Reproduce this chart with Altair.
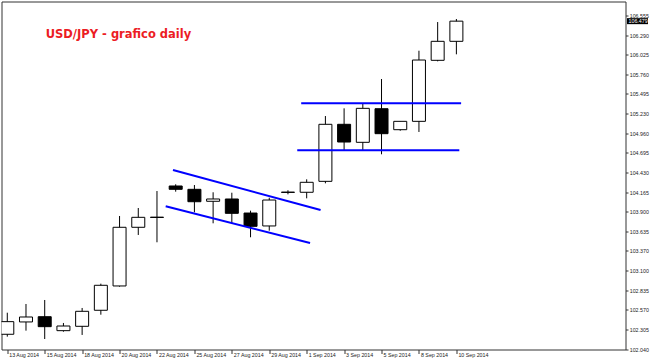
import altair as alt
import pandas as pd

dates = ["13 Aug 2014", "14 Aug 2014", "15 Aug 2014", "17 Aug 2014", "18 Aug 2014",
         "19 Aug 2014", "20 Aug 2014", "21 Aug 2014", "22 Aug 2014", "24 Aug 2014",
         "25 Aug 2014", "26 Aug 2014", "27 Aug 2014", "28 Aug 2014", "29 Aug 2014",
         "31 Aug 2014", "1 Sep 2014", "2 Sep 2014", "3 Sep 2014", "4 Sep 2014",
         "5 Sep 2014", "7 Sep 2014", "8 Sep 2014", "9 Sep 2014", "10 Sep 2014"]
opens = [102.241, 102.408, 102.479, 102.290, 102.349, 102.566, 102.895, 103.689, 103.826, 104.248,
         104.203, 104.041, 104.072, 103.882, 103.707, 104.161, 104.163, 104.311, 105.083, 104.839,
         105.294, 105.010, 105.123, 105.949, 106.206]
highs = [102.533, 102.651, 102.705, 102.394, 102.597, 102.926, 103.842, 103.950, 104.180, 104.271,
         104.261, 104.163, 104.157, 103.914, 104.089, 104.190, 104.338, 105.195, 105.299, 105.367,
         105.696, 105.123, 106.079, 106.467, 106.508]
lows = [102.209, 102.290, 102.177, 102.276, 102.232, 102.506, 102.885, 103.585, 103.486, 104.171,
        103.892, 103.743, 103.743, 103.554, 103.643, 104.135, 104.081, 104.284, 104.735, 104.735,
        104.677, 104.996, 104.979, 105.935, 106.030]
closes = [102.412, 102.475, 102.344, 102.353, 102.552, 102.904, 103.689, 103.824, 103.822, 104.203,
          104.035, 104.072, 103.878, 103.702, 104.058, 104.165, 104.298, 105.083, 104.843, 105.299,
          104.956, 105.123, 105.953, 106.206, 106.479]

y_ticks = [106.555, 106.290, 106.025, 105.760, 105.495, 105.230, 104.960, 104.695, 104.430,
           104.165, 103.900, 103.635, 103.370, 103.100, 102.835, 102.570, 102.305, 102.040]

# trend lines (bar index / price)
seg_x1 = [8.855, 8.466, 15.707, 15.496]
seg_x2 = [16.743, 16.180, 24.253, 24.157]
seg_y1 = [104.464, 103.973, 105.367, 104.731]
seg_y2 = [103.923, 103.477, 105.367, 104.731]

last_price = [106.479]
title_text = ["USD/JPY - grafico daily"]

df = pd.DataFrame({"i": list(range(len(dates))), "date": dates, "open": opens,
                   "high": highs, "low": lows, "close": closes})
seg_df = pd.DataFrame({"x1": seg_x1, "x2": seg_x2, "y1": seg_y1, "y2": seg_y2})

xscale = alt.Scale(domain=[-0.042, 32.771], nice=False, zero=False)
yscale = alt.Scale(domain=[102.035, 106.745], nice=False, zero=False)

label_js = "[" + ",".join("'%s'" % d for d in dates) + "][datum.value]"
FONT = "Liberation Sans"
FS = 5.3

xaxis = alt.Axis(values=list(range(0, len(dates), 2)), labelExpr=label_js, orient="bottom",
                 domain=False, grid=False, ticks=True, tickSize=4, tickColor="#333333",
                 labelAlign="left", labelOffset=1.5, labelPadding=-1, labelFontSize=FS,
                 labelFont=FONT, labelColor="#222222", labelOverlap=False, labelFlush=False,
                 title=None)
yaxis = alt.Axis(values=y_ticks, format=".3f", orient="right", domain=False, grid=False,
                 ticks=True, tickSize=2.5, tickColor="#333333", labelPadding=1.2,
                 labelFontSize=FS, labelFont=FONT, labelColor="#222222", labelOverlap=False,
                 labelFlush=False, title=None)

X = lambda f: alt.X(f, scale=xscale, axis=xaxis)
Y = lambda f: alt.Y(f, scale=yscale, axis=yaxis)

wicks = alt.Chart(df).mark_rule(color="black", strokeWidth=1, clip=True).encode(
    x=X("i:Q"), y=Y("low:Q"), y2="high:Q",
)

bodies = alt.Chart(df).mark_bar(size=13, stroke="black", strokeWidth=1, clip=True).encode(
    x=X("i:Q"), y=Y("open:Q"), y2="close:Q",
    fill=alt.condition("datum.close >= datum.open", alt.value("white"), alt.value("black")),
)

lines = alt.Chart(seg_df).mark_rule(color="#0000ff", strokeWidth=2, clip=True).encode(
    x=X("x1:Q"), x2="x2:Q", y=Y("y1:Q"), y2="y2:Q",
)

title = alt.Chart(pd.DataFrame({"t": title_text})).mark_text(
    align="left", baseline="alphabetic", font="DejaVu Sans", fontSize=11.5,
    fontWeight="bold", color="#ec1c24"
).encode(x=alt.value(44.2), y=alt.value(36.2), text="t:N")

pdf = pd.DataFrame({"p": last_price})
marker_bg = alt.Chart(pdf).mark_rule(color="black", strokeWidth=6, clip=False).encode(
    x=alt.value(625.5), x2=alt.value(646.5), y=Y("p:Q"),
)
marker_txt = alt.Chart(pdf).mark_text(
    align="left", baseline="middle", font=FONT, fontSize=FS, color="white", clip=False
).encode(
    x=alt.value(627), y=Y("p:Q"), text=alt.Text("p:Q", format=".3f"),
)

chart = alt.layer(wicks, bodies, lines, title, marker_bg, marker_txt).properties(
    width=624, height=348,
    padding={"left": 1.5, "top": 1.5, "right": 24.5, "bottom": 12.5},
    autosize="none",
    background="white",
).configure_view(stroke="#333333", strokeWidth=1)

chart.save("out.html", embed_options={"renderer": "svg", "actions": False})
